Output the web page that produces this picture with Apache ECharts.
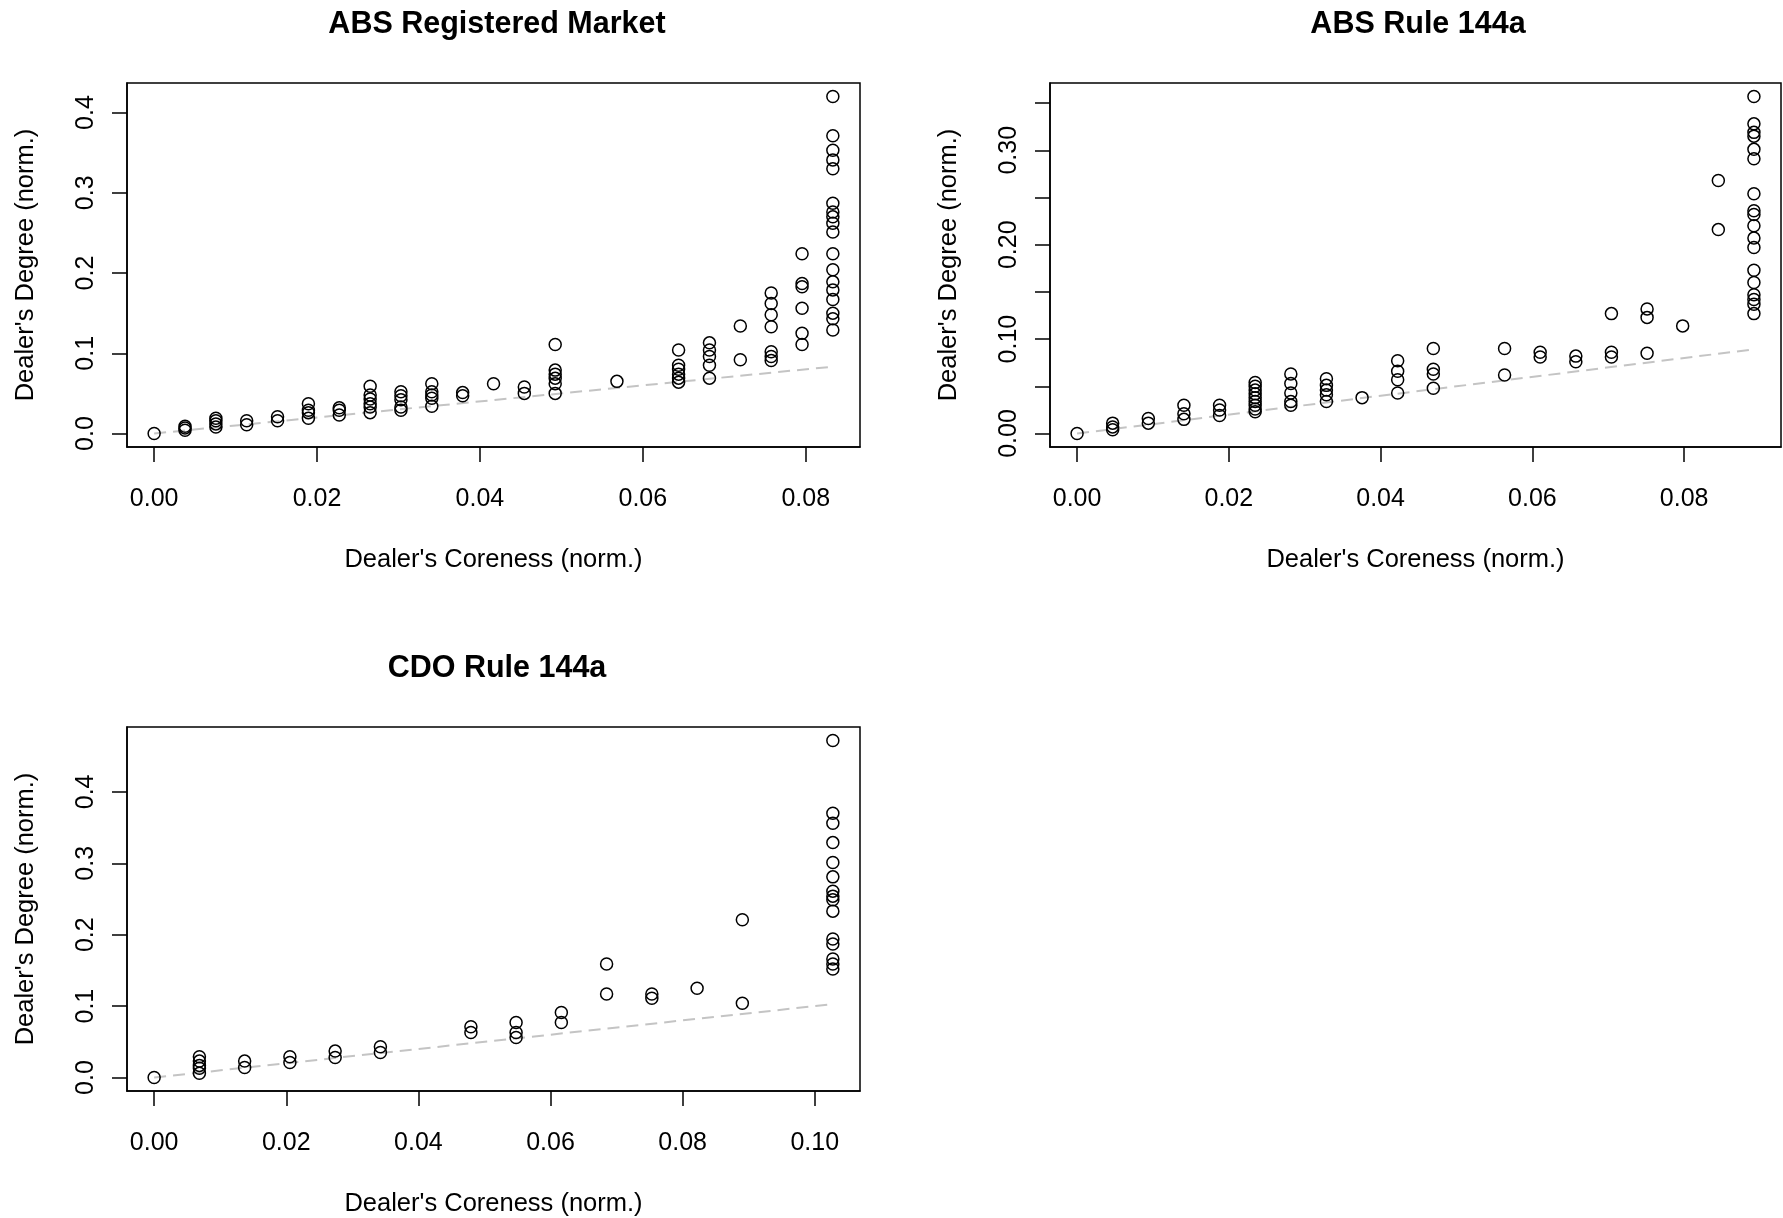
<!DOCTYPE html>
<html><head><meta charset="utf-8">
<script src="https://cdn.jsdelivr.net/npm/echarts@6/dist/echarts.min.js"></script>
<style>html,body{margin:0;padding:0;background:#fff}#c{width:1783px;height:1218px}</style>
</head><body><div id="c"></div>
<script>
// ---------- text ----------
const panelTitles = ['ABS Registered Market', 'ABS Rule 144a', 'CDO Rule 144a'];
const xAxisTitle = "Dealer's Coreness (norm.)";
const yAxisTitle = "Dealer's Degree (norm.)";

// ---------- ABS Registered Market ----------
const absRegCoreness = [0, 0.00379, 0.00758, 0.01136, 0.01515, 0.01894, 0.02273, 0.02652, 0.03030, 0.03409, 0.03788,
  0.04167, 0.04545, 0.04924, 0.05682, 0.06439, 0.06818, 0.07197, 0.07576, 0.07955, 0.08333];
const absRegDegree = [
  [0],
  [0.004, 0.007, 0.009],
  [0.008, 0.012, 0.016, 0.019],
  [0.011, 0.016],
  [0.016, 0.021],
  [0.019, 0.026, 0.029, 0.037],
  [0.023, 0.029, 0.032],
  [0.026, 0.033, 0.037, 0.043, 0.048, 0.059],
  [0.029, 0.033, 0.042, 0.047, 0.052],
  [0.034, 0.044, 0.048, 0.052, 0.062],
  [0.047, 0.051],
  [0.062],
  [0.050, 0.058],
  [0.050, 0.062, 0.069, 0.074, 0.079, 0.111],
  [0.065],
  [0.064, 0.069, 0.074, 0.080, 0.085, 0.104],
  [0.069, 0.085, 0.096, 0.104, 0.113],
  [0.092, 0.134],
  [0.091, 0.096, 0.102, 0.133, 0.148, 0.162, 0.175],
  [0.111, 0.125, 0.156, 0.183, 0.187, 0.224],
  [0.129, 0.143, 0.150, 0.167, 0.179, 0.189, 0.204, 0.224, 0.251, 0.262, 0.270, 0.276, 0.287, 0.330, 0.341, 0.353, 0.371, 0.420]
];
const absRegXTicks = [0, 0.02, 0.04, 0.06, 0.08];
const absRegYTicks = [0, 0.1, 0.2, 0.3, 0.4];
const absRegYLabels = [0, 0.1, 0.2, 0.3, 0.4];

// ---------- ABS Rule 144a ----------
const abs144Coreness = [0, 0.00469, 0.00939, 0.01408, 0.01878, 0.02347, 0.02817, 0.03286, 0.03756, 0.04225, 0.04695,
  0.05634, 0.06103, 0.06573, 0.07042, 0.07512, 0.07981, 0.08451, 0.08920];
const abs144Degree = [
  [0],
  [0.004, 0.007, 0.011],
  [0.011, 0.016],
  [0.015, 0.021, 0.030],
  [0.019, 0.025, 0.030],
  [0.023, 0.026, 0.030, 0.034, 0.038, 0.042, 0.046, 0.050, 0.054],
  [0.030, 0.034, 0.043, 0.053, 0.063],
  [0.034, 0.041, 0.046, 0.051, 0.058],
  [0.038],
  [0.043, 0.057, 0.066, 0.077],
  [0.048, 0.063, 0.068, 0.090],
  [0.062, 0.090],
  [0.081, 0.086],
  [0.076, 0.082],
  [0.081, 0.086, 0.127],
  [0.085, 0.123, 0.132],
  [0.114],
  [0.216, 0.268],
  [0.127, 0.137, 0.142, 0.147, 0.160, 0.173, 0.197, 0.207, 0.220, 0.232, 0.236, 0.254, 0.291, 0.301, 0.315, 0.319, 0.328, 0.357]
];
const abs144XTicks = [0, 0.02, 0.04, 0.06, 0.08];
const abs144YTicks = [0, 0.05, 0.10, 0.15, 0.20, 0.25, 0.30, 0.35];
const abs144YLabels = [0, 0.10, 0.20, 0.30];

// ---------- CDO Rule 144a ----------
const cdoCoreness = [0, 0.00685, 0.01370, 0.02055, 0.02740, 0.03425, 0.04795, 0.05479, 0.06164, 0.06849, 0.07534,
  0.08219, 0.08904, 0.10274];
const cdoDegree = [
  [0],
  [0.006, 0.013, 0.017, 0.023, 0.029],
  [0.014, 0.023],
  [0.021, 0.029],
  [0.028, 0.037],
  [0.035, 0.043],
  [0.063, 0.071],
  [0.056, 0.063, 0.077],
  [0.077, 0.091],
  [0.117, 0.159],
  [0.111, 0.117],
  [0.125],
  [0.104, 0.221],
  [0.152, 0.159, 0.166, 0.187, 0.194, 0.233, 0.249, 0.254, 0.261, 0.281, 0.301, 0.329, 0.356, 0.370, 0.472]
];
const cdoXTicks = [0, 0.02, 0.04, 0.06, 0.08, 0.10];
const cdoYTicks = [0, 0.1, 0.2, 0.3, 0.4];
const cdoYLabels = [0, 0.1, 0.2, 0.3, 0.4];

// ---------- build ----------
const FONT = "'Liberation Sans', Arial, Helvetica, sans-serif";
const panels = [
  {x: absRegCoreness, y: absRegDegree, xt: absRegXTicks, yt: absRegYTicks, yl: absRegYLabels, xd: 2, yd: 1,
   grid: {left: 127, top: 83, width: 733, height: 364}, titleX: 492, titleY: 4},
  {x: abs144Coreness, y: abs144Degree, xt: abs144XTicks, yt: abs144YTicks, yl: abs144YLabels, xd: 2, yd: 2,
   grid: {left: 1050, top: 83, width: 731, height: 364}, titleX: 1413, titleY: 4},
  {x: cdoCoreness, y: cdoDegree, xt: cdoXTicks, yt: cdoYTicks, yl: cdoYLabels, xd: 2, yd: 1,
   grid: {left: 127, top: 727, width: 733, height: 364}, titleX: 492, titleY: 648}
];

const option = {
  animation: false,
  backgroundColor: '#fff',
  title: [], grid: [], xAxis: [], yAxis: [], series: []
};

panels.forEach((p, i) => {
  const pts = [];
  p.x.forEach((xv, j) => p.y[j].forEach(yv => pts.push([xv, yv])));
  const xmax = Math.max(...p.x);
  const ymax = Math.max(...pts.map(d => d[1]));
  option.title.push({
    text: panelTitles[i], left: p.titleX, top: p.titleY, textAlign: 'center',
    textStyle: {fontFamily: FONT, fontSize: 30.5, fontWeight: 'bold', color: '#000'}
  });
  option.grid.push(Object.assign({show: true, borderColor: '#000', borderWidth: 1.5,
    backgroundColor: 'rgba(0,0,0,0)', containLabel: false, outerBoundsMode: 'none'}, p.grid));
  option.xAxis.push({
    type: 'value', gridIndex: i, min: -0.04 * xmax, max: 1.04 * xmax,
    splitLine: {show: false},
    axisLine: {show: true, onZero: false, lineStyle: {color: '#000', width: 1.5}},
    axisTick: {show: true, customValues: p.xt, length: 15, lineStyle: {color: '#000', width: 1.5}},
    axisLabel: {show: true, customValues: p.xt, formatter: v => (+v).toFixed(p.xd), margin: 40,
      fontFamily: FONT, fontSize: 25, color: '#000'},
    name: xAxisTitle, nameLocation: 'middle', nameGap: 100,
    nameTextStyle: {fontFamily: FONT, fontSize: 25.5, color: '#000'}
  });
  option.yAxis.push({
    type: 'value', gridIndex: i, min: -0.04 * ymax, max: 1.04 * ymax,
    splitLine: {show: false},
    axisLine: {show: true, onZero: false, lineStyle: {color: '#000', width: 1.5}},
    axisTick: {show: true, customValues: p.yt, length: 15, lineStyle: {color: '#000', width: 1.5}},
    axisLabel: {show: true, customValues: p.yl, formatter: v => (+v).toFixed(p.yd), margin: 28, rotate: 90,
      fontFamily: FONT, fontSize: 25, color: '#000'},
    name: yAxisTitle, nameLocation: 'middle', nameGap: 88, nameRotate: 90,
    nameTextStyle: {fontFamily: FONT, fontSize: 25.5, color: '#000'}
  });
  option.series.push({
    type: 'line', xAxisIndex: i, yAxisIndex: i, data: [[0, 0], [xmax, xmax]],
    symbol: 'none', silent: true, z: 1,
    lineStyle: {color: '#c4c4c4', width: 2, type: [12, 7]}
  });
  option.series.push({
    type: 'scatter', xAxisIndex: i, yAxisIndex: i, data: pts, symbol: 'circle', symbolSize: 12,
    silent: true, z: 3,
    itemStyle: {color: 'rgba(0,0,0,0)', borderColor: '#000', borderWidth: 1.5, opacity: 1}
  });
});

const chart = echarts.init(document.getElementById('c'), null, {renderer: 'canvas'});
chart.setOption(option);
</script>
</body></html>
